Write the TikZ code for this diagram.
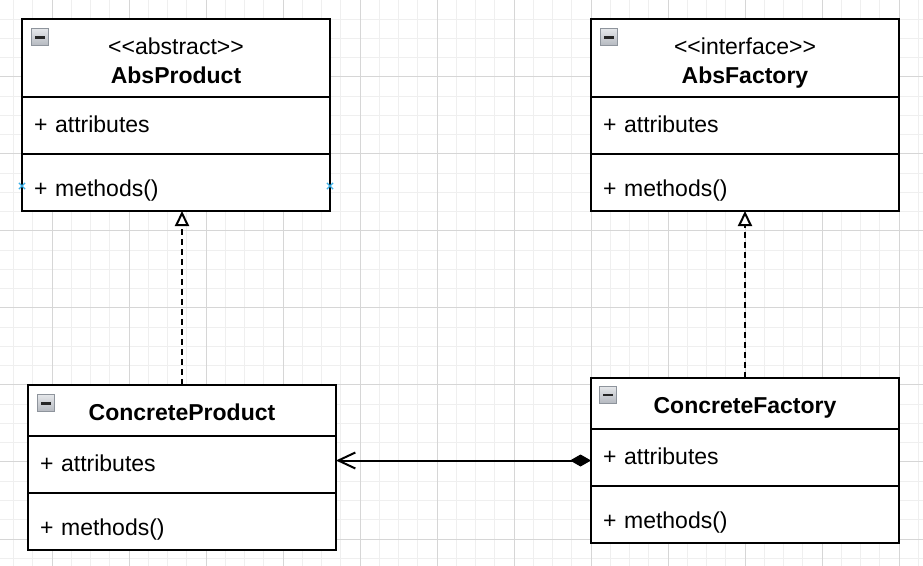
\documentclass[tikz,border=0pt]{standalone}
\usepackage{fontspec}
\setmainfont{Liberation Sans}
\usetikzlibrary{positioning,arrows.meta,shapes.misc}
\definecolor{gridmajor}{HTML}{D6D6D6}
\definecolor{gridminor}{HTML}{EFEFEF}
\definecolor{iconedge}{HTML}{8E949C}
\definecolor{icontop}{HTML}{E4E6E9}
\definecolor{iconbot}{HTML}{B4B8BF}
\definecolor{handle}{HTML}{3AB0E8}
\begin{document}
\begin{tikzpicture}[x=0.5bp,y=-0.5bp,
    font=\fontsize{11.5bp}{14.5bp}\selectfont,
    minorline/.style={gridminor,line width=0.5bp},
    majorline/.style={gridmajor,line width=0.5bp},
    headbox/.style={draw,fill=white,line width=1bp,outer sep=0pt,
      minimum width=154bp,align=center,text depth=0pt,anchor=north west},
    stereohead/.style={headbox,minimum height=39bp,text height=25.5bp},
    namehead/.style={headbox,minimum height=25.5bp,text height=9.5bp},
    rowbox/.style={draw,fill=white,line width=1bp,outer sep=0pt,
      minimum width=154bp,minimum height=28.5bp,inner xsep=6bp,
      text width=142bp,align=left,text depth=0pt},
    attrrow/.style={rowbox,text height=7bp},
    methrow/.style={rowbox,text height=14bp},
    minusbox/.style={draw=iconedge,top color=icontop,bottom color=iconbot,
      line width=0.5bp,minimum size=8.5bp,inner sep=0pt,
      path picture={\fill[black!85] ([xshift=-2.5bp,yshift=-0.65bp]path picture bounding box.center) rectangle ++(5bp,1.3bp);}},
    handlemark/.style={cross out,draw=handle,line width=0.6bp,
      minimum size=2.5bp,inner sep=0pt},
    realize/.style={line width=1bp,dash pattern=on 3bp off 2bp,
      -{Triangle[open,fill=white,length=7.5bp,width=7bp]}},
    compose/.style={line width=1bp,
      {Diamond[length=10.5bp,width=6bp]}-{Straight Barb[length=8.5bp,width=8bp]}}]
  \useasboundingbox (0,0) rectangle (923,566);
  \fill[white] (0,0) rectangle (923,566);
  \foreach \gx in {0,...,47}
    \draw[minorline] ({13.5+19.25*\gx},0) -- ({13.5+19.25*\gx},566);
  \foreach \gy in {0,...,29}
    \draw[minorline] (0,{19.25*\gy}) -- (923,{19.25*\gy});
  \foreach \gx in {0,...,11}
    \draw[majorline] ({52+77*\gx},0) -- ({52+77*\gx},566);
  \foreach \gy in {0,...,7}
    \draw[majorline] (0,{77*\gy}) -- (923,{77*\gy});

  \node[stereohead] (ap) at (22,19) {<{}<abstract>{}>\\\textbf{AbsProduct}};
  \node[attrrow,below=0pt of ap] (ap-a) {+ attributes};
  \node[methrow,below=0pt of ap-a] (ap-m) {+ methods()};

  \node[stereohead] (af) at (591,19) {<{}<interface>{}>\\\textbf{AbsFactory}};
  \node[attrrow,below=0pt of af] (af-a) {+ attributes};
  \node[methrow,below=0pt of af-a] (af-m) {+ methods()};

  \node[namehead] (cp) at (28,385) {\textbf{ConcreteProduct}};
  \node[attrrow,below=0pt of cp] (cp-a) {+ attributes};
  \node[methrow,below=0pt of cp-a] (cp-m) {+ methods()};

  \node[namehead] (cf) at (591,378) {\textbf{ConcreteFactory}};
  \node[attrrow,below=0pt of cf] (cf-a) {+ attributes};
  \node[methrow,below=0pt of cf-a] (cf-m) {+ methods()};

  \node[minusbox] (ap-i) at ([xshift=8.75bp,yshift=-9.25bp]ap.north west) {};
  \node[minusbox] (af-i) at ([xshift=8.75bp,yshift=-9.25bp]af.north west) {};
  \node[minusbox] (cp-i) at ([xshift=8.75bp,yshift=-9.25bp]cp.north west) {};
  \node[minusbox] (cf-i) at ([xshift=8.25bp,yshift=-8.5bp]cf.north west) {};

  \node[handlemark] (ap-h1) at ([yshift=-1.75bp]ap-m.west) {};
  \node[handlemark] (ap-h2) at ([yshift=-1.75bp]ap-m.east) {};

  \draw[realize] (cp.north) -- (cp.north |- ap-m.south);
  \draw[realize] (cf.north) -- (af-m.south);
  \draw[compose] ([yshift=-1.5bp]cf-a.west) -- ([yshift=-1.5bp]cf-a.west -| cp-a.east);
\end{tikzpicture}
\end{document}
